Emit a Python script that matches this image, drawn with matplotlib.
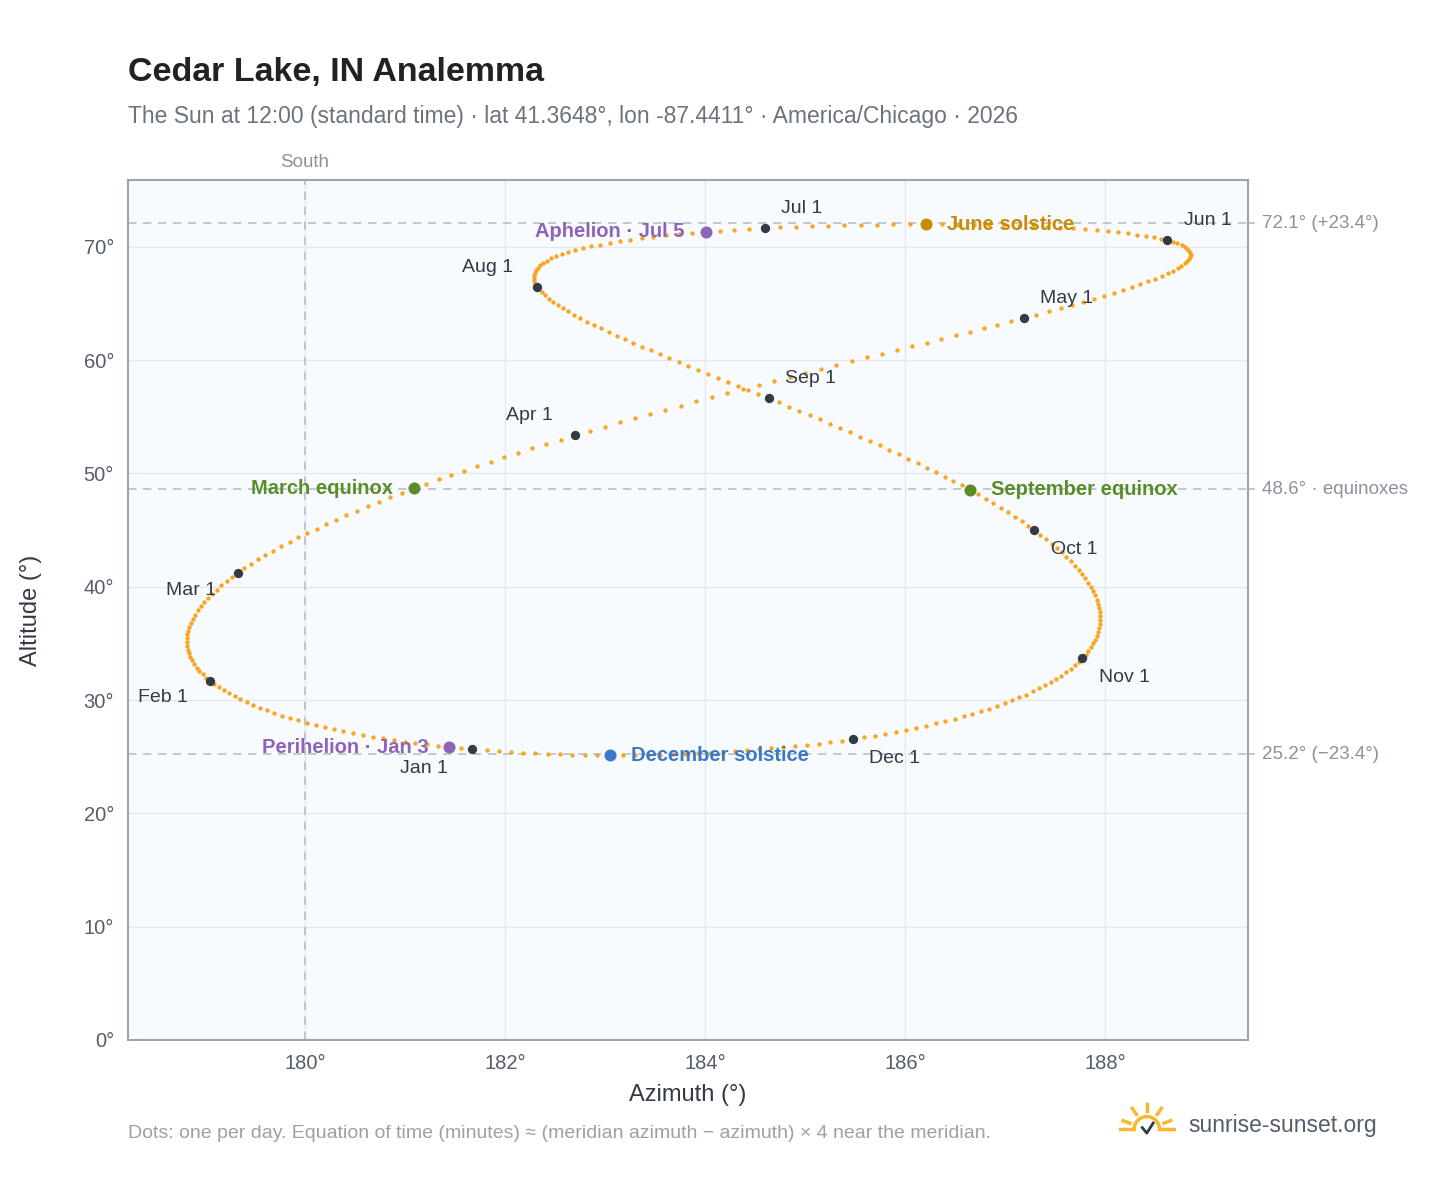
import numpy as np
import matplotlib
matplotlib.use("Agg")
import matplotlib.pyplot as plt
from datetime import date, timedelta

plt.rcParams['font.family'] = ['Liberation Sans', 'DejaVu Sans']

LAT, LON, TZ = 41.3648, -87.4411, -6
YEAR = 2026

def sunpos(d, hour=12.0):
    # NOAA solar position
    n = (d - date(2000, 1, 1)).days
    jd = 2451544.5 + n + (hour - TZ) / 24.0
    T = (jd - 2451545.0) / 36525.0
    L0 = (280.46646 + T * (36000.76983 + T * 0.0003032)) % 360
    M = 357.52911 + T * (35999.05029 - 0.0001537 * T)
    e = 0.016708634 - T * (0.000042037 + 0.0000001267 * T)
    Mr = np.radians(M)
    C = (np.sin(Mr) * (1.914602 - T * (0.004817 + 0.000014 * T))
         + np.sin(2 * Mr) * (0.019993 - 0.000101 * T) + np.sin(3 * Mr) * 0.000289)
    tl = L0 + C
    om = 125.04 - 1934.136 * T
    lam = tl - 0.00569 - 0.00478 * np.sin(np.radians(om))
    eps0 = 23 + (26 + (21.448 - T * (46.815 + T * (0.00059 - T * 0.001813))) / 60) / 60
    eps = eps0 + 0.00256 * np.cos(np.radians(om))
    dec = np.degrees(np.arcsin(np.sin(np.radians(eps)) * np.sin(np.radians(lam))))
    y = np.tan(np.radians(eps / 2)) ** 2
    L0r = np.radians(L0)
    eot = 4 * np.degrees(y * np.sin(2 * L0r) - 2 * e * np.sin(Mr) + 4 * e * y * np.sin(Mr) * np.cos(2 * L0r)
                         - 0.5 * y * y * np.sin(4 * L0r) - 1.25 * e * e * np.sin(2 * Mr))
    tst = hour * 60 + eot + 4 * LON - 60 * TZ
    ha = np.radians(tst / 4 - 180)
    la, dr = np.radians(LAT), np.radians(dec)
    cz = np.sin(la) * np.sin(dr) + np.cos(la) * np.cos(dr) * np.cos(ha)
    z = np.arccos(cz)
    az = np.degrees(np.arctan2(np.sin(ha), np.cos(ha) * np.sin(la) - np.tan(dr) * np.cos(la))) + 180
    return az % 360, 90 - np.degrees(z)

days = [date(YEAR, 1, 1) + timedelta(i) for i in range(365)]
pts = np.array([sunpos(d) for d in days])

month_labels = ["Jan 1", "Feb 1", "Mar 1", "Apr 1", "May 1", "Jun 1",
                "Jul 1", "Aug 1", "Sep 1", "Oct 1", "Nov 1", "Dec 1"]
month_offsets = [(-52, -14), (-52, -12), (-52, -13), (-50, 14), (12, 14), (12, 14),
                 (12, 14), (-54, 14), (12, 14), (12, -14), (12, -14), (12, -14)]
events = [("Perihelion · Jan 3", date(YEAR, 1, 3), "#8e63b8", "left"),
          ("March equinox", date(YEAR, 3, 20), "#5b8c2a", "left"),
          ("June solstice", date(YEAR, 6, 21), "#c98a06", "right"),
          ("Aphelion · Jul 5", date(YEAR, 7, 5), "#8e63b8", "left"),
          ("September equinox", date(YEAR, 9, 22), "#5b8c2a", "right"),
          ("December solstice", date(YEAR, 12, 21), "#3a78c9", "right")]
ref_lines = [(72.1, "72.1° (+23.4°)"), (48.6, "48.6° · equinoxes"), (25.2, "25.2° (−23.4°)")]

fig = plt.figure(figsize=(14.48, 11.88), dpi=100)
ax = fig.add_axes([0.0884, 0.1246, 0.7735, 0.7239])
ax.set_facecolor("#f8fbfe")
ax.set_xlim(178.23, 189.43)
ax.set_ylim(0, 75.9)
ax.set_xticks([180, 182, 184, 186, 188])
ax.set_xticklabels([f"{v}°" for v in [180, 182, 184, 186, 188]])
ax.set_yticks(range(0, 80, 10))
ax.set_yticklabels([f"{v}°" for v in range(0, 80, 10)])
ax.grid(color="#e3e8ef", lw=1)
ax.set_axisbelow(True)
for s in ax.spines.values():
    s.set_color("#9aa5b4"); s.set_linewidth(1.5)
ax.tick_params(colors="#555d6b", labelsize=14.5, length=0, pad=10)
ax.set_xlabel("Azimuth (°)", fontsize=17, color="#333a45", labelpad=8)
ax.set_ylabel("Altitude (°)", fontsize=17, color="#333a45", labelpad=30)

ax.axvline(180, color="#b5c0cc", ls=(0, (5, 4)), lw=1.2)
ax.text(180, 1.01, "South", transform=ax.get_xaxis_transform(), ha="center", va="bottom",
        fontsize=13.5, color="#8a929e")
for yv, lab in ref_lines:
    ax.axhline(yv, color="#b5c0cc", ls=(0, (5, 4)), lw=1.2)
    ax.plot([1, 1.005], [yv, yv], transform=ax.get_yaxis_transform(), color="#b5c0cc",
            lw=1.2, clip_on=False)
    ax.annotate(lab, (1, yv), xycoords=("axes fraction", "data"), xytext=(10, 0),
                textcoords="offset points", va="center", fontsize=13.5, color="#8a929e")

ax.scatter(pts[:, 0], pts[:, 1], s=10, color="#f5a623", zorder=3, lw=0)

for m, (lab, off) in enumerate(zip(month_labels, month_offsets)):
    i = (date(YEAR, m + 1, 1) - date(YEAR, 1, 1)).days
    ax.scatter(*pts[i], s=45, color="#333a45", zorder=5, lw=0)
    ax.annotate(lab, pts[i], xytext=off, textcoords="offset points", fontsize=14,
                color="#333a45", ha="left", va="center", zorder=6)

for lab, d, col, side in events:
    i = (d - date(YEAR, 1, 1)).days
    ax.scatter(*pts[i], s=75, color=col, zorder=5, lw=0)
    off = (-15, 0) if side == "left" else (15, 0)
    ax.annotate(lab, pts[i], xytext=off, textcoords="offset points", fontsize=14.5,
                fontweight="bold", color=col, ha="right" if side == "left" else "left",
                va="center", zorder=6)

fig.text(0.0884, 0.939, "Cedar Lake, IN Analemma", fontsize=24.5, fontweight="bold", color="#222", va="center")
fig.text(0.0884, 0.902, "The Sun at 12:00 (standard time) · lat 41.3648°, lon -87.4411° · America/Chicago · 2026",
         fontsize=16.5, color="#6b7280", va="center")
fig.text(0.0884, 0.046, "Dots: one per day. Equation of time (minutes) ≈ (meridian azimuth − azimuth) × 4 near the meridian.",
         fontsize=14, color="#9aa1ab", va="center")
fig.text(0.821, 0.053, "sunrise-sunset.org", fontsize=16.5, color="#555d6b", va="center")
lax = fig.add_axes([0.772, 0.040, 0.04, 0.034])
lax.set_xlim(-1.6, 1.6); lax.set_ylim(-0.6, 1.6); lax.axis("off")
th = np.linspace(0, np.pi, 50)
lax.plot(0.7 * np.cos(th), 0.7 * np.sin(th), color="#f5b82e", lw=2.5)
for a in np.radians([20, 55, 90, 125, 160]):
    lax.plot([1.0 * np.cos(a), 1.4 * np.cos(a)], [1.0 * np.sin(a), 1.4 * np.sin(a)], color="#f5b82e", lw=2.5)
lax.plot([-1.5, -0.8], [0, 0], color="#f5b82e", lw=2.5)
lax.plot([0.8, 1.5], [0, 0], color="#f5b82e", lw=2.5)
lax.plot([-0.25, 0, 0.35], [0.1, -0.2, 0.35], color="#333a45", lw=2)

fig.savefig("out.png", dpi=100, facecolor="white")
